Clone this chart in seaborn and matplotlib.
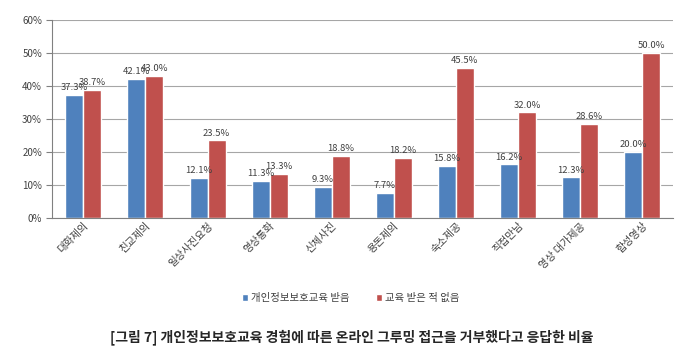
import pandas as pd
import matplotlib.pyplot as plt
import seaborn as sns

categories = ["대화제의", "친교제의", "일상사진요청", "영상통화", "신체사진",
              "용돈제의", "숙소제공", "직접만남", "영상 대가제공", "합성영상"]
series_names = ["개인정보보호교육 받음", "교육 받은 적 없음"]
educated = [37.3, 42.1, 12.1, 11.3, 9.3, 7.7, 15.8, 16.2, 12.3, 20.0]
not_educated = [38.7, 43.0, 23.5, 13.3, 18.8, 18.2, 45.5, 32.0, 28.6, 50.0]
y_ticks = [0, 10, 20, 30, 40, 50, 60]
title = "[그림 7] 개인정보보호교육 경험에 따른 온라인 그루밍 접근을 거부했다고 응답한 비율"

# long format table for seaborn
data = pd.DataFrame({
    "category": categories * 2,
    "group": [series_names[0]] * len(categories) + [series_names[1]] * len(categories),
    "value": educated + not_educated,
})

sns.set_style("white")
plt.rcParams["font.family"] = ["Noto Sans CJK KR", "DejaVu Sans"]

fig = plt.figure(figsize=(6.8, 3.55), dpi=100)
ax = fig.add_axes([0.077, 0.386, 0.913, 0.558])

sns.barplot(data=data, x="category", y="value", hue="group",
            palette=["#4F81BD", "#C0504D"], saturation=1, width=0.58, ax=ax,
            order=categories, hue_order=series_names, legend=True)

for cont in ax.containers:
    ax.bar_label(cont, fmt="%.1f%%", fontsize=6.8, color="#404040", padding=2)

ax.set_ylim(0, 60)
ax.set_yticks(y_ticks)
ax.set_yticklabels([f"{t}%" for t in y_ticks], fontsize=7, color="#404040")
ax.yaxis.grid(True, color="#a6a6a6", linewidth=0.8)
ax.set_axisbelow(True)
ax.set_xlim(-0.5, len(categories) - 0.5)

# category boundary tick marks
ax.set_xticks([i - 0.5 for i in range(len(categories) + 1)], minor=True)
ax.tick_params(axis="x", which="minor", length=4, color="#808080", width=0.8)
ax.tick_params(axis="x", which="major", length=0, pad=2)
ax.tick_params(axis="y", which="major", length=4, color="#808080", width=0.8, left=True)
ax.set_xticks(range(len(categories)))
ax.set_xticklabels(categories, rotation=45, ha="right", rotation_mode="anchor",
                   fontsize=7.5, color="#404040")

ax.set_xlabel("")
ax.set_ylabel("")
for side in ["top", "right"]:
    ax.spines[side].set_visible(False)
ax.spines["left"].set_color("#808080")
ax.spines["bottom"].set_color("#808080")

handles, labels = ax.get_legend_handles_labels()
ax.legend_.remove()
fig.legend(handles, labels, loc="center", bbox_to_anchor=(0.516, 0.16), ncol=2,
           frameon=False, fontsize=7.5, handlelength=0.6, handleheight=0.6,
           columnspacing=2.5, handletextpad=0.3, labelcolor="#404040")

fig.text(0.518, 0.05, title, ha="center", va="center", fontsize=10, fontweight="bold")

fig.savefig("out.png", dpi=100)
